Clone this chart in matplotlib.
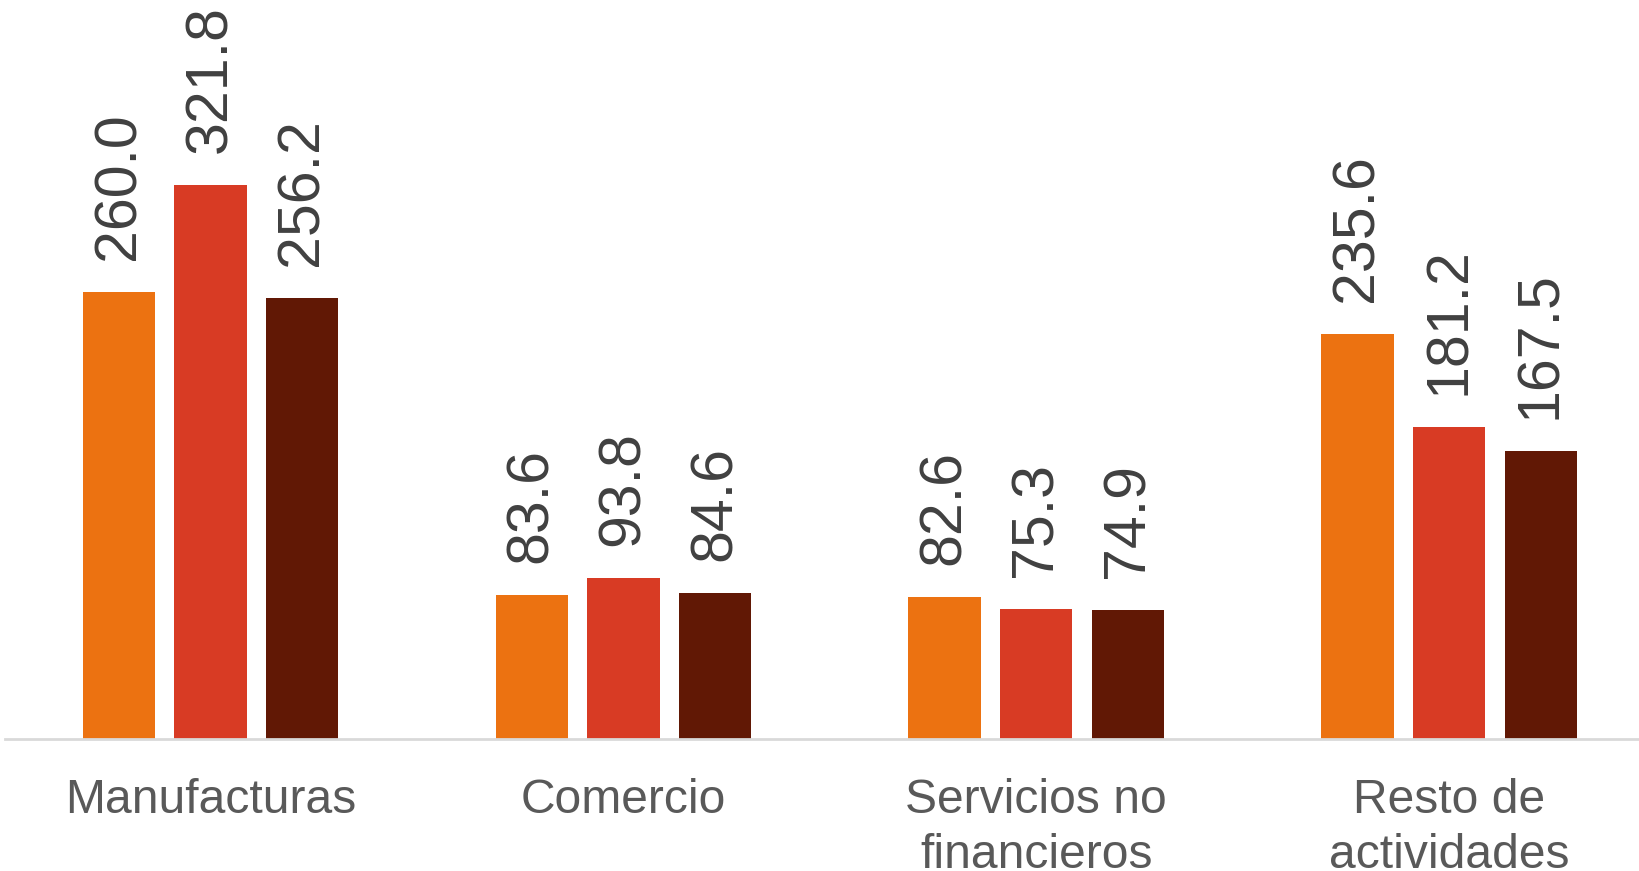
import numpy as np
import matplotlib.pyplot as plt

plt.rcParams['font.family'] = ['Liberation Sans', 'DejaVu Sans']

categories = ['Manufacturas', 'Comercio', 'Servicios no\nfinancieros', 'Resto de\nactividades']
serie1 = [260.0, 83.6, 82.6, 235.6]
serie2 = [321.8, 93.8, 75.3, 181.2]
serie3 = [256.2, 84.6, 74.9, 167.5]
colors = ['#EC7211', '#D83B24', '#611805']

fig = plt.figure(figsize=(16.39, 8.71), dpi=100)
ax = fig.add_axes([5/1639, 132/871, 1634/1639, 739/871])

x = np.arange(len(categories))
w = 0.175
off = 0.222
for i, (vals, c) in enumerate(zip([serie1, serie2, serie3], colors)):
    bars = ax.bar(x + (i - 1)*off, vals, w, color=c)
    for b, v in zip(bars, vals):
        ax.annotate('{:.1f}'.format(v), (b.get_x() + b.get_width()/2, v),
                    xytext=(0, 23), textcoords='offset points',
                    rotation=90, ha='center', va='bottom',
                    fontsize=42.5, color='#404040')

ax.set_xlim(-0.498, 3.46)
ax.set_ylim(0, 429.5)
ax.set_xticks(x)
ax.set_xticklabels(categories, fontsize=34.6, color='#595959', linespacing=1.28)
ax.tick_params(axis='x', length=0, pad=28)
ax.set_yticks([])
for s in ['top', 'right', 'left']:
    ax.spines[s].set_visible(False)
ax.spines['bottom'].set_color('#D9D9D9')
ax.spines['bottom'].set_linewidth(2)

fig.savefig('out.png', dpi=100)
